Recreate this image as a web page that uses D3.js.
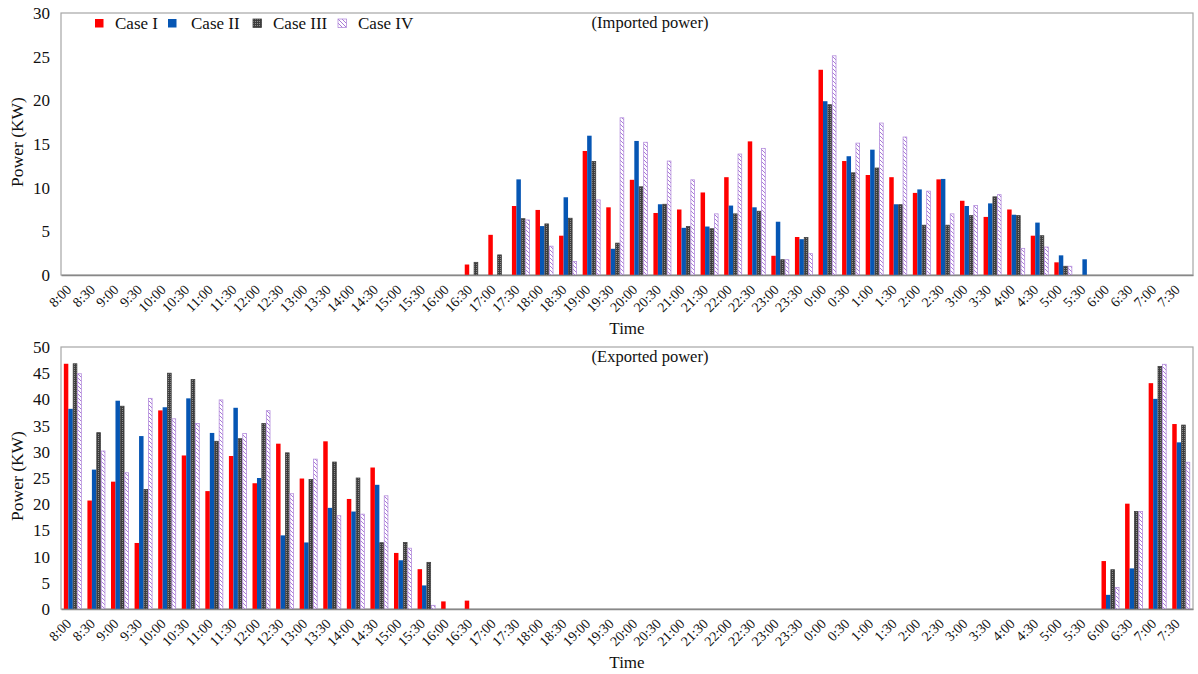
<!DOCTYPE html>
<html>
<head>
<meta charset="utf-8">
<script src="https://cdn.jsdelivr.net/npm/d3@7/dist/d3.min.js"></script>
<style>
  html, body { margin: 0; padding: 0; background: #fff; }
  svg { display: block; font-family: "Liberation Serif", "Times New Roman", serif; }
</style>
</head>
<body>
<svg id="chart" width="1198" height="674"></svg>
<script>
// Half-hour time slots across the day (8:00 to 7:30 next morning)
const times = ["8:00","8:30","9:00","9:30","10:00","10:30","11:00","11:30","12:00","12:30",
  "13:00","13:30","14:00","14:30","15:00","15:30","16:00","16:30","17:00","17:30",
  "18:00","18:30","19:00","19:30","20:00","20:30","21:00","21:30","22:00","22:30",
  "23:00","23:30","0:00","0:30","1:00","1:30","2:00","2:30","3:00","3:30",
  "4:00","4:30","5:00","5:30","6:00","6:30","7:00","7:30"];

const caseNames = ["Case I", "Case II", "Case III", "Case IV"];

// Imported power (kW) per slot
const importCaseI = [0,0,0,0,0,0,0,0,0,0, 0,0,0,0,0,0,0,1.2,4.6,7.9,
  7.45,4.5,14.2,7.75,10.9,7.1,7.5,9.45,11.2,15.3, 2.2,4.35,23.5,13.05,11.45,11.2,9.4,10.95,8.5,6.65,
  7.5,4.5,1.45,0,0,0,0,0];
const importCaseII = [0,0,0,0,0,0,0,0,0,0, 0,0,0,0,0,0,0,0,0,10.95,
  5.6,8.9,15.95,3.0,15.35,8.1,5.4,5.55,7.95,7.75, 6.1,4.1,19.9,13.6,14.35,8.1,9.8,11.0,7.9,8.2,
  6.9,6.0,2.25,1.8,0,0,0,0];
const importCaseIII = [0,0,0,0,0,0,0,0,0,0, 0,0,0,0,0,0,0,1.45,2.3,6.45,
  5.85,6.5,13.0,3.65,10.1,8.1,5.55,5.3,7.0,7.3, 1.75,4.3,19.5,11.7,12.25,8.05,5.7,5.7,6.8,8.95,
  6.8,4.5,1.0,0,0,0,0,0];
const importCaseIV = [0,0,0,0,0,0,0,0,0,0, 0,0,0,0,0,0,0,0,0,6.3,
  3.3,1.55,8.6,18.0,15.2,13.05,10.9,7.0,13.85,14.5, 1.75,2.45,25.1,15.1,17.4,15.8,9.6,7.0,7.95,9.2,
  3.05,3.2,1.0,0,0,0,0,0];

// Exported power (kW) per slot
const exportCaseI = [46.8,20.7,24.3,12.6,37.9,29.3,22.5,29.2,24.0,31.55, 24.9,32.0,21.0,27.0,10.7,7.6,1.45,1.6,0,0,
  0,0,0,0,0,0,0,0,0,0, 0,0,0,0,0,0,0,0,0,0,
  0,0,0,0,9.15,20.1,43.1,35.3];
const exportCaseII = [38.2,26.6,39.75,33.0,38.5,40.2,33.6,38.4,25.0,14.05, 12.7,19.3,18.6,23.7,9.3,4.5,0,0,0,0,
  0,0,0,0,0,0,0,0,0,0, 0,0,0,0,0,0,0,0,0,0,
  0,0,0,0,2.7,7.75,40.1,31.8];
const exportCaseIII = [46.8,33.65,38.7,22.8,45.0,43.8,32.0,32.5,35.4,29.8, 24.7,28.05,25.0,12.65,12.7,8.9,0,0,0,0,
  0,0,0,0,0,0,0,0,0,0, 0,0,0,0,0,0,0,0,0,0,
  0,0,0,0,7.5,18.6,46.3,35.1];
const exportCaseIV = [44.9,30.15,26.0,40.2,36.3,35.4,39.9,33.5,37.85,22.0, 28.6,17.8,18.1,21.6,11.6,0.7,0,0,0,0,
  0,0,0,0,0,0,0,0,0,0, 0,0,0,0,0,0,0,0,0,0,
  0,0,0,0,4.1,18.6,46.7,28.0];

const importTicks = [0,5,10,15,20,25,30];
const exportTicks = [0,5,10,15,20,25,30,35,40,45,50];

const svg = d3.select("#chart");
const defs = svg.append("defs");

// Fine checker texture for Case III
const checker = defs.append("pattern").attr("id", "checker")
  .attr("patternUnits", "userSpaceOnUse").attr("width", 2).attr("height", 2);
checker.append("rect").attr("width", 2).attr("height", 2).attr("fill", "#3d3d3d");
checker.append("rect").attr("width", 1).attr("height", 1).attr("fill", "#8e8e8e");

// Diagonal purple hatch for Case IV
const hatch = defs.append("pattern").attr("id", "hatch")
  .attr("patternUnits", "userSpaceOnUse").attr("width", 4).attr("height", 4);
hatch.append("rect").attr("width", 4).attr("height", 4).attr("fill", "#fff");
hatch.append("path").attr("d", "M-1,-1 L5,5 M-1,3 L1,5 M3,-1 L5,1")
  .attr("stroke", "#a97bd6").attr("stroke-width", 1);

const styles = [
  { fill: "#ff0000", stroke: "none" },
  { fill: "#0656b4", stroke: "none" },
  { fill: "url(#checker)", stroke: "#404040" },
  { fill: "url(#hatch)", stroke: "#b48ddc" }
];

const left = 61, right = 1193;

const x0 = d3.scaleBand().domain(times).range([left, right])
  .paddingInner(0.24).paddingOuter(0.12);
const x1 = d3.scaleBand().domain(d3.range(4)).range([0, x0.bandwidth()]);

function panel(cfg) {
  const y = d3.scaleLinear().domain([0, cfg.max]).range([cfg.bottom, cfg.top]);
  const g = svg.append("g");

  // plot frame
  g.append("rect").attr("x", left).attr("y", cfg.top)
    .attr("width", right - left).attr("height", cfg.bottom - cfg.top)
    .attr("fill", "none").attr("stroke", "#a6a6a6").attr("stroke-width", 1.2);

  // bars
  cfg.series.forEach((vals, s) => {
    g.append("g").selectAll("rect")
      .data(times.map((t, i) => ({ t, v: vals[i] })).filter(d => d.v > 0))
      .join("rect")
      .attr("x", d => x0(d.t) + x1(s) + (styles[s].stroke === "none" ? 0 : 0.4))
      .attr("y", d => y(d.v))
      .attr("width", x1.bandwidth() - (styles[s].stroke === "none" ? 0 : 0.8))
      .attr("height", d => y(0) - y(d.v))
      .attr("fill", styles[s].fill)
      .attr("stroke", styles[s].stroke)
      .attr("stroke-width", 0.8);
  });

  // baseline axis
  const xAxis = g.append("g").attr("transform", `translate(0,${cfg.bottom})`)
    .call(d3.axisBottom(x0).tickSize(0).tickFormat(""));
  xAxis.select(".domain").attr("stroke", "#888").attr("stroke-width", 1.6);

  // rotated time labels
  g.append("g").selectAll("text").data(times).join("text")
    .attr("transform", d => `translate(${x0(d) + x0.bandwidth() / 2 - 4},${cfg.bottom + 12}) rotate(-45)`)
    .attr("text-anchor", "end").attr("dy", "0.35em")
    .attr("font-size", 14).attr("fill", "#111")
    .text(d => d);

  // y axis labels
  const yAxis = g.append("g").attr("transform", `translate(${left},0)`)
    .call(d3.axisLeft(y).tickValues(cfg.ticks).tickSize(0).tickPadding(11));
  yAxis.select(".domain").remove();
  yAxis.selectAll("text").attr("font-size", 17).attr("fill", "#111")
    .attr("font-family", "Liberation Serif, serif");

  g.append("text")
    .attr("transform", `translate(23,${(cfg.top + cfg.bottom) / 2 - 2}) rotate(-90)`)
    .attr("text-anchor", "middle").attr("font-size", 17.5).attr("fill", "#111")
    .text("Power (KW)");

  g.append("text").attr("x", 627).attr("y", cfg.bottom + 59)
    .attr("text-anchor", "middle").attr("font-size", 17).attr("fill", "#111")
    .text("Time");

  g.append("text").attr("x", 650).attr("y", cfg.top + 15)
    .attr("text-anchor", "middle").attr("font-size", 16.5).attr("fill", "#111")
    .text(cfg.title);
  return g;
}

panel({
  top: 13, bottom: 275, max: 30, ticks: importTicks, title: "(Imported power)",
  series: [importCaseI, importCaseII, importCaseIII, importCaseIV]
});

panel({
  top: 347, bottom: 609, max: 50, ticks: exportTicks, title: "(Exported power)",
  series: [exportCaseI, exportCaseII, exportCaseIII, exportCaseIV]
});

// legend inside the upper panel
const legendX = [95, 168, 253, 338];
const legend = svg.append("g").selectAll("g").data(caseNames).join("g")
  .attr("transform", (d, i) => `translate(${legendX[i]},19)`);
legend.append("rect").attr("width", 8.5).attr("height", 8.5)
  .attr("fill", (d, i) => styles[i].fill)
  .attr("stroke", (d, i) => styles[i].stroke).attr("stroke-width", 0.8);
legend.append("text").attr("x", (d, i) => [20, 23, 20, 20][i]).attr("y", 10)
  .attr("font-size", 17).attr("fill", "#111").text(d => d);
</script>
</body>
</html>
